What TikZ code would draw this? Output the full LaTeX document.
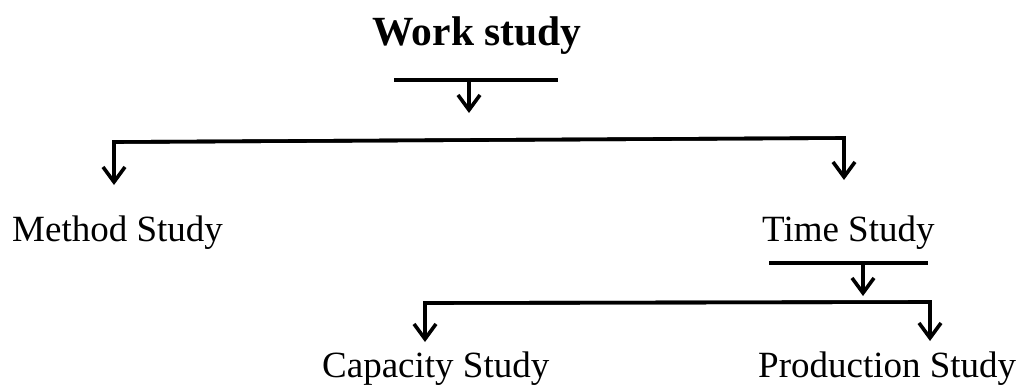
\documentclass[tikz,border=0pt]{standalone}
\usepackage{fontspec}
\setmainfont{Liberation Serif}
\usetikzlibrary{arrows.meta}
\begin{document}
\begin{tikzpicture}[x=1pt,y=-1pt,
  conn/.style={line width=3.6pt},
  arr/.style={line width=3.6pt,-{Straight Barb[length=15pt,width=22pt,line width=3.6pt]}},
  lbl/.style={inner sep=0pt,anchor=base west,font=\fontsize{37}{42}\selectfont},
  ttl/.style={inner sep=0pt,anchor=base,font=\fontsize{41.5}{46}\selectfont\bfseries}]
\useasboundingbox (0,0) rectangle (1022,386);
\node[ttl] (work) at (477,45) {Work study};
\node[lbl] (method) at (12,241) {Method Study};
\node[lbl] (time) at (762,241) {Time Study};
\node[lbl] (cap) at (322,377) {Capacity Study};
\node[lbl] (prod) at (758,377) {Production Study};
\coordinate (l1a) at (394,80); \coordinate (l1b) at (558,80);
\coordinate (a1s) at (469,80); \coordinate (a1e) at (469,113);
\coordinate (ml) at (114,142); \coordinate (mr) at (844,138);
\coordinate (mle) at (114,185); \coordinate (mre) at (844,180);
\coordinate (l2a) at (769,263); \coordinate (l2b) at (928,263);
\coordinate (a2s) at (863,263); \coordinate (a2e) at (863,296);
\coordinate (bl) at (425,303); \coordinate (br) at (930,302);
\coordinate (ble) at (425,342); \coordinate (bre) at (930,341);
\draw[conn] (l1a) -- (l1b);
\draw[arr] (a1s) -- (a1e);
\draw[arr] (mr) -- (ml) -- (mle);
\draw[arr] (ml) -- (mr) -- (mre);
\draw[conn] (l2a) -- (l2b);
\draw[arr] (a2s) -- (a2e);
\draw[arr] (br) -- (bl) -- (ble);
\draw[arr] (bl) -- (br) -- (bre);
\end{tikzpicture}
\end{document}
